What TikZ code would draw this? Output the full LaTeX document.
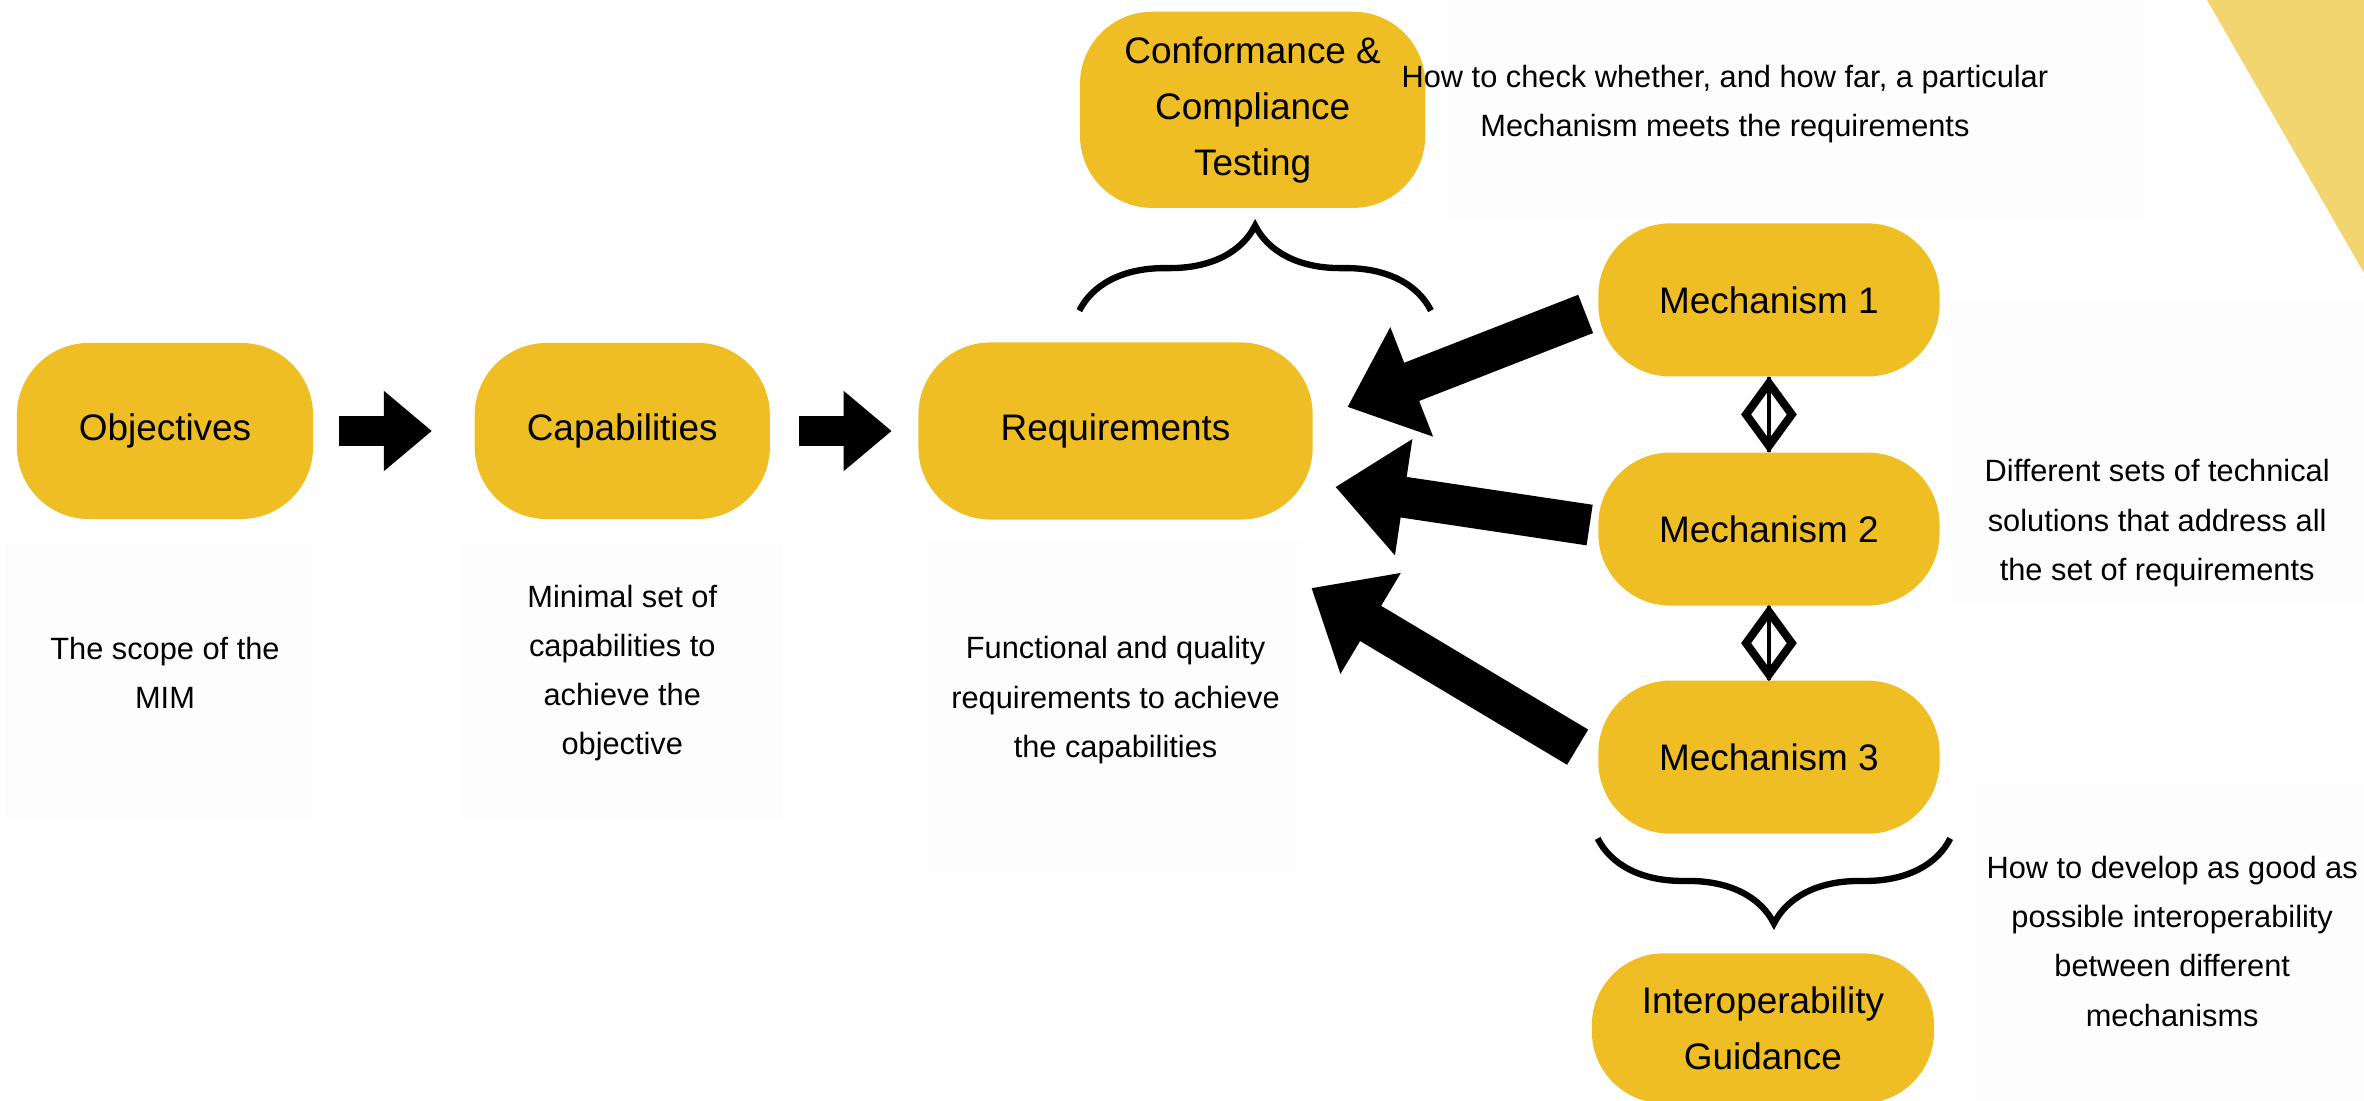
\documentclass[tikz,border=0pt]{standalone}
\usepackage{fontspec}
\setmainfont{Liberation Sans}
\usetikzlibrary{positioning,calc,arrows.meta,shapes.geometric,decorations.pathreplacing}
\definecolor{mimgold}{RGB}{238,190,36}
\definecolor{mimpale}{RGB}{242,213,110}
\newcommand{\boxfont}{\fontsize{10.5}{16}\selectfont}
\newcommand{\notefont}{\fontsize{8.75}{14}\selectfont}

\begin{document}
\begin{tikzpicture}[x=0.01cm,y=-0.01cm,on grid,
		box/.style={rectangle,rounded corners=0.72cm,fill=mimgold,align=center,font=\boxfont,inner sep=0pt},
		mech/.style={box,minimum width=3.41cm,minimum height=1.53cm},
		note/.style={align=center,font=\notefont},
		pane/.style={fill=black!0.8},
		flow/.style={-{Triangle[length=0.48cm,width=0.77cm]},line width=0.3cm},
		push/.style={-{Triangle[length=0.69cm,width=1.13cm]},line width=0.41cm},
		link/.style={diamond,draw,line width=2.3pt,minimum width=0.49cm,minimum height=0.66cm,inner sep=0pt},
		tie/.style={line width=0.9pt},
		curly/.style={decorate,decoration={brace,amplitude=0.85cm},line width=1.8pt}]
		      \useasboundingbox (0,0) rectangle (2364,1101);
		      \fill[pane] (5,542) rectangle (313,820);
		      \fill[pane] (460,543) rectangle (783,820);
		      \fill[pane] (928,540) rectangle (1302,872);
		      \fill[pane] (1448,0) rectangle (2149,219);
		      \fill[pane] (1950,300) rectangle (2364,604);
		      \fill[pane] (1975,785) rectangle (2364,1101);
		      \fill[mimpale] (2207,0) -- (2364,0) -- (2364,273) -- cycle;

		      \node[box,minimum width=2.96cm,minimum height=1.76cm] (obj) at (165,431) {Objectives};
		      \node[box,minimum width=2.95cm,minimum height=1.76cm] (cap) [right=4.57cm of obj] {Capabilities};
		      \node[box,minimum width=3.94cm,minimum height=1.77cm] (req) [right=4.93cm of cap] {Requirements};
		      \node[box,minimum width=3.45cm,minimum height=1.96cm] (conf) [above right=3.21cm and 1.37cm of req] {Conformance \&\\Compliance\\Testing};
		      \node[mech] (m1) [above right=1.31cm and 6.53cm of req] {Mechanism 1};
		      \node[mech] (m2) [below=2.29cm of m1] {Mechanism 2};
		      \node[mech] (m3) [below=2.28cm of m2] {Mechanism 3};
		      \node[box,minimum width=3.42cm,minimum height=1.5cm] (guide) [below left=2.71cm and 0.06cm of m3] {Interoperability\\Guidance};

		      \node[note] (scope) [below=2.42cm of obj] {The scope of the\\MIM};
		      \node[note] (mincap) [below=2.42cm of cap] {Minimal set of\\capabilities to\\achieve the\\objective};
		      \node[note] (funreq) [below=2.69cm of req] {Functional and quality\\requirements to achieve\\the capabilities};
		      \node[note] (check) [above right=0.06cm and 4.72cm of conf] {How to check whether, and how far, a particular\\Mechanism meets the requirements};
		      \node[note] (sets) [above right=0.06cm and 3.88cm of m2] {Different sets of technical\\solutions that address all\\the set of requirements};
		      \node[note] (interop) [below right=1.84cm and 4.03cm of m3] {How to develop as good as\\possible interoperability\\between different\\mechanisms};

		      \draw[flow,shorten <=0.25cm,shorten >=0.42cm] (obj) -- (cap);
		      \draw[flow,shorten <=0.28cm,shorten >=0.26cm] (cap) -- (req);

		      \coordinate (tip1) at ($(req.east)+(34,-24)$);
		      \coordinate (tip2) at ($(req.east)+(22,56)$);
		      \coordinate (tip3) at ($(req.east)+(-2,157)$);
		      \draw[push] ($(m1.west)+(-12,14)$) -- (tip1);
		      \draw[push] ($(m2.west)+(-8,-4)$) -- (tip2);
		      \draw[push] ($(m3.west)+(-20,-10)$) -- (tip3);

		      \node[link] (d1) at ($(m1.south)!0.5!(m2.north)$) {};
		      \node[link] (d2) at ($(m2.south)!0.5!(m3.north)$) {};
		      \draw[tie] (m1.south) -- (m2.north);
		      \draw[tie] (m2.south) -- (m3.north);

		      \draw[curly] ([yshift=-1.02cm]conf.south west) -- ([yshift=-1.02cm,xshift=0.05cm]conf.south east);
		      \draw[curly] ([xshift=0.1cm,yshift=-0.04cm]m3.south east) -- ([yshift=-0.04cm]m3.south west);
		    \end{tikzpicture}
\end{document}
